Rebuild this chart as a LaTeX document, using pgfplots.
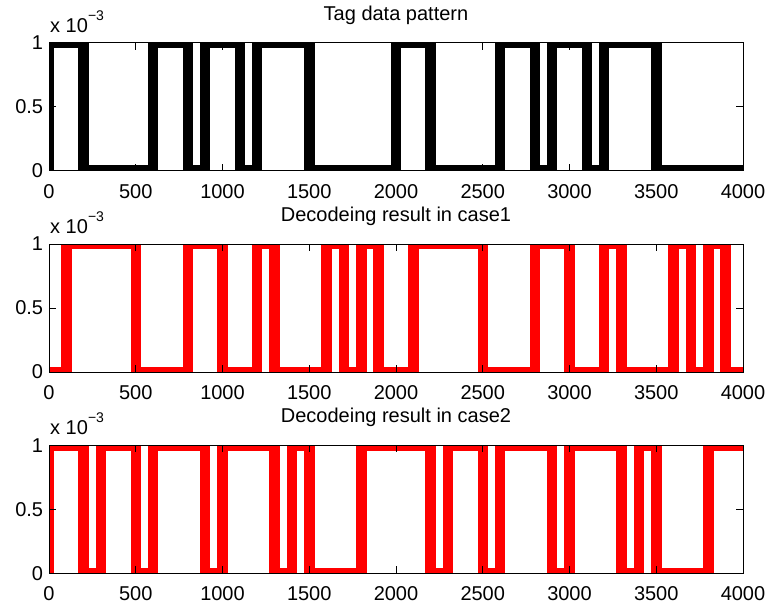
\documentclass[border=0pt]{standalone}
\usepackage{fontspec}
\setmainfont{Liberation Sans}
\usepackage{pgfplots}
\pgfplotsset{compat=1.18}
\begin{document}
\begin{tikzpicture}
\path (0pt,0pt) rectangle (770pt,-605pt);
\pgfplotsset{
 myax/.style={
  at={(49pt,#1)}, anchor=north west, scale only axis, width=694pt, height=128pt,
  xmin=0,xmax=4000,ymin=0,ymax=0.001,
  xtick={0,500,...,4000}, ytick={0,0.0005,0.001}, yticklabels={0,0.5,1},
  scaled ticks=false, tick align=inside, major tick length=7pt,
  xtick pos=both, ytick pos=both, xticklabel pos=bottom, yticklabel pos=left,
  tick label style={font=\fontsize{20}{24}\selectfont},
  /pgf/number format/assume math mode=true, /pgf/number format/1000 sep={},
  xticklabel style={anchor=base, yshift=-27.3pt, inner sep=0pt},
  yticklabel style={anchor=east, xshift=-5.7pt, inner sep=0pt},
  title style={at={(0.5,1)}, anchor=base, yshift=16.5pt, inner sep=0pt, font=\fontsize{20}{24}\selectfont},
  axis line style={line width=0.8pt, black},
  every tick/.style={line width=0.6pt, black},
  axis on top,
 },
 sq/.style={const plot, no marks, line width=10.5pt, line join=miter},
}
\begin{axis}[myax=-42.7pt, name=ax1, title={Tag data pattern}]
\addplot[sq, black] table {
x y
0 0
0 0.001
200 0
600 0.001
800 0
900 0.001
1100 0
1200 0.001
1500 0
2000 0.001
2200 0
2600 0.001
2800 0
2900 0.001
3100 0
3200 0.001
3500 0
4000 0
};
\end{axis}
\begin{axis}[myax=-244pt, name=ax2, title={Decodeing result in case1}]
\addplot[sq, red] table {
x y
0 0
100 0.001
500 0
800 0.001
1000 0
1200 0.001
1300 0
1600 0.001
1700 0
1800 0.001
1900 0
2100 0.001
2500 0
2800 0.001
3000 0
3200 0.001
3300 0
3600 0.001
3700 0
3800 0.001
3900 0
4000 0
};
\end{axis}
\begin{axis}[myax=-445.3pt, name=ax3, title={Decodeing result in case2}]
\addplot[sq, red] table {
x y
0 0
0 0.001
200 0
300 0.001
500 0
600 0.001
900 0
1000 0.001
1300 0
1400 0.001
1500 0
1800 0.001
2200 0
2300 0.001
2500 0
2600 0.001
2900 0
3000 0.001
3300 0
3400 0.001
3500 0
3800 0.001
4000 0.001
};
\end{axis}
\foreach \a in {ax1,ax2,ax3}{
 \node[anchor=base west, inner sep=0pt, font=\fontsize{20}{24}\selectfont]
   at ([xshift=1pt, yshift=10.4pt]\a.north west)
   {x 10\raisebox{12.3pt}{\fontsize{14}{14}\selectfont\char"2212 3}};
}
\end{tikzpicture}
\end{document}
